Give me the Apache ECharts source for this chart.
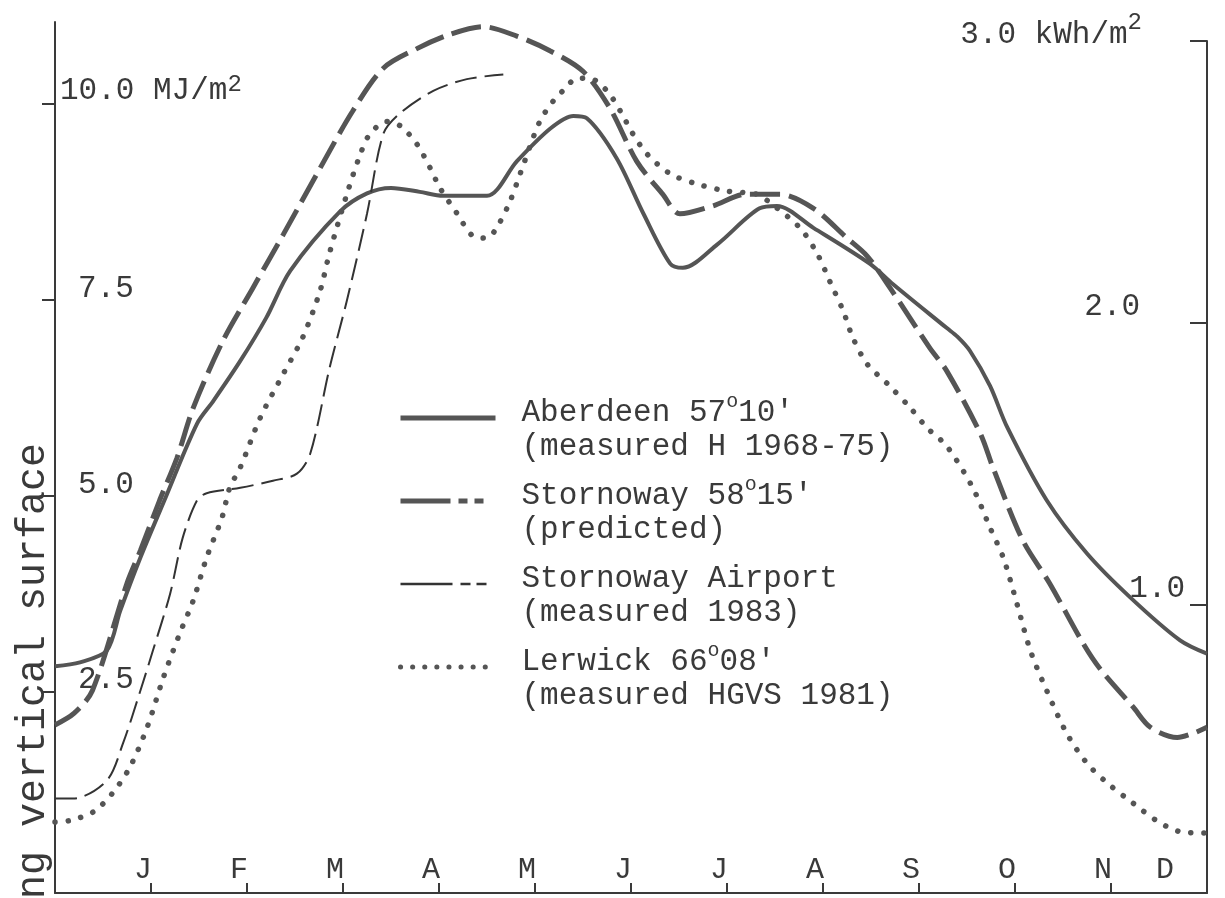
<!DOCTYPE html>
<html>
<head>
<meta charset="utf-8">
<script src="https://cdn.jsdelivr.net/npm/echarts@6/dist/echarts.min.js"></script>
<style>
  html, body { margin: 0; padding: 0; background: #fff; }
  #chart { width: 1225px; height: 898px; }
</style>
</head>
<body>
<div id="chart"></div>
<script>
// month letters, a label sits just left of each month-end tick
const months = ['J', 'F', 'M', 'A', 'M', 'J', 'J', 'A', 'S', 'O', 'N', 'D'];
const monthEnds = [1, 2, 3, 4, 5, 6, 7, 8, 9, 10, 11];
const leftTicks = [2.5, 5, 7.5, 10];   // MJ/m2
const rightTicks = [1, 2, 3];          // kWh/m2
const MJ_PER_KWH = 3.6;

// [position in months from 1 Jan, MJ/m2]
const aberdeen = [
  [0, 2.82], [0.26, 2.87], [0.54, 3.02], [0.68, 3.53], [0.89, 4.21], [1.15, 4.97],
  [1.48, 5.92], [1.65, 6.21], [1.93, 6.72], [2.2, 7.27], [2.45, 7.87], [2.97, 8.63],
  [3.25, 8.86], [3.5, 8.93], [3.8, 8.88], [4.04, 8.83], [4.5, 8.83], [4.81, 9.27],
  [5.16, 9.69], [5.4, 9.85], [5.54, 9.82], [5.85, 9.31], [6.13, 8.6], [6.41, 7.96],
  [6.54, 7.91], [6.9, 8.21], [7.34, 8.67], [7.52, 8.7], [7.9, 8.42], [8.49, 7.96],
  [8.73, 7.7], [9.29, 7.14], [9.4, 7.03], [9.53, 6.85], [9.74, 6.4], [9.92, 5.87],
  [10.33, 4.94], [10.75, 4.26], [11.2, 3.7], [11.72, 3.15], [12, 2.98]
];
const stornowayPredicted = [
  [0, 2.07], [0.2, 2.22], [0.39, 2.51], [0.75, 3.88], [0.89, 4.3], [1.09, 4.94],
  [1.27, 5.48], [1.44, 6.12], [1.75, 6.98], [2.06, 7.65], [2.38, 8.34], [2.76, 9.18],
  [3.1, 9.91], [3.42, 10.46], [3.77, 10.71], [4.11, 10.89], [4.46, 10.99], [4.81, 10.87],
  [5.16, 10.68], [5.5, 10.42], [5.78, 9.95], [6.06, 9.27], [6.33, 8.85], [6.51, 8.6],
  [6.85, 8.7], [7.2, 8.85], [7.55, 8.85], [7.9, 8.67], [8.25, 8.29], [8.46, 8.06],
  [8.7, 7.65], [9.11, 6.89], [9.29, 6.59], [9.64, 5.79], [9.77, 5.36], [10.08, 4.43],
  [10.36, 3.88], [10.71, 3.11], [10.89, 2.78], [11.23, 2.3], [11.41, 2.04], [11.69, 1.91],
  [11.85, 1.96], [12, 2.04]
];
const stornowayAirport = [
  [0, 1.13], [0.19, 1.13], [0.54, 1.36], [0.71, 1.84], [0.89, 2.51], [1.02, 3.02],
  [1.2, 3.75], [1.33, 4.46], [1.48, 4.94], [1.58, 5.03], [1.93, 5.1], [2.27, 5.19],
  [2.52, 5.28], [2.66, 5.54], [2.86, 6.63], [3.04, 7.49], [3.25, 8.6], [3.42, 9.62],
  [3.59, 9.88], [3.94, 10.17], [4.29, 10.32], [4.67, 10.38]
];
const lerwick = [
  [0, 0.83], [0.16, 0.85], [0.4, 0.96], [0.6, 1.2], [0.78, 1.53], [0.96, 2.04],
  [1.13, 2.68], [1.3, 3.24], [1.44, 3.66], [1.58, 4.21], [1.74, 4.72], [1.82, 5.1],
  [1.93, 5.36], [2.14, 6.0], [2.38, 6.56], [2.58, 7.02], [2.76, 7.61], [2.86, 8.1],
  [3.04, 8.85], [3.18, 9.36], [3.28, 9.62], [3.46, 9.78], [3.6, 9.72], [3.77, 9.49],
  [3.91, 9.18], [4.01, 8.93], [4.19, 8.6], [4.35, 8.32], [4.5, 8.29], [4.6, 8.42],
  [4.74, 8.76], [4.88, 9.23], [5.05, 9.78], [5.19, 10.04], [5.29, 10.17], [5.44, 10.33],
  [5.57, 10.33], [5.75, 10.17], [5.89, 9.91], [6.02, 9.62], [6.17, 9.36], [6.41, 9.11],
  [6.69, 8.98], [7.0, 8.89], [7.31, 8.85], [7.45, 8.74], [7.76, 8.42], [7.94, 8.09],
  [8.07, 7.74], [8.21, 7.36], [8.31, 7.02], [8.46, 6.68], [8.67, 6.43], [8.91, 6.12],
  [9.08, 5.87], [9.29, 5.63], [9.56, 5.1], [9.74, 4.59], [9.88, 4.2], [10.02, 3.62],
  [10.16, 3.02], [10.33, 2.51], [10.54, 1.96], [10.75, 1.58], [10.96, 1.33], [11.23, 1.07],
  [11.51, 0.82], [11.75, 0.7], [12, 0.69]
];

const legendText = {
  'Aberdeen': "Aberdeen 57{o|o}10'\n(measured H 1968-75)",
  'Stornoway': "Stornoway 58{o|o}15'\n(predicted)",
  'Stornoway Airport': 'Stornoway Airport\n(measured 1983)',
  'Lerwick': "Lerwick 66{o|o}08'\n(measured HGVS 1981)"
};

const FONT = '"Liberation Mono", "DejaVu Sans Mono", monospace';
const INK = '#3a3a3a';
const LINE = '#555555';
const yMin = -0.077;
const yMax = 11.05;

const chart = echarts.init(document.getElementById('chart'));

const option = {
  backgroundColor: '#ffffff',
  animation: false,
  // second grid only carries the kWh scale, whose line stops at 3.0
  grid: [
    { left: 55, right: 18, top: 22, bottom: 5, outerBoundsMode: 'none' },
    { left: 55, right: 18, top: 41, bottom: 5, outerBoundsMode: 'none' }
  ],
  legend: {
    orient: 'vertical',
    left: 393,
    top: 367,
    itemWidth: 95,
    itemHeight: 14,
    itemGap: -9,
    selectedMode: false,
    itemStyle: { opacity: 0 },
    data: [
      { name: 'Aberdeen', lineStyle: { type: 'solid', width: 5, color: LINE } },
      { name: 'Stornoway', lineStyle: { type: [50, 8, 9, 7, 9, 40], width: 5, color: LINE } },
      { name: 'Stornoway Airport', lineStyle: { type: [52, 8, 10, 6, 10, 40], width: 2.5, color: '#333' } },
      { name: 'Lerwick', lineStyle: { type: [0.1, 12], width: 5, cap: 'round', color: LINE } }
    ],
    formatter: name => legendText[name],
    textStyle: {
      fontFamily: FONT,
      fontSize: 31,
      lineHeight: 34,
      color: INK,
      padding: [24, 0, 0, 21],
      rich: {
        o: { fontFamily: FONT, fontSize: 20, lineHeight: 12, padding: [0, 0, 22, 0], color: INK }
      }
    }
  },
  graphic: [{
    type: 'text',
    x: 33,
    y: 443,
    rotation: Math.PI / 2,
    style: {
      text: 'ng vertical surface',
      fontFamily: FONT,
      fontSize: 40,
      fill: INK,
      textAlign: 'right',
      textVerticalAlign: 'middle'
    }
  }],
  xAxis: [
    {
      type: 'value',
      gridIndex: 0,
      min: 0,
      max: 12,
      splitLine: { show: false },
      axisLine: { show: true, onZero: false, lineStyle: { color: INK, width: 2 } },
      axisTick: {
        show: true, inside: true, length: 10, customValues: monthEnds,
        lineStyle: { color: INK, width: 2 }
      },
      axisLabel: {
        inside: true,
        margin: 8,
        customValues: months.map((m, i) => i + 1),
        formatter: v => (v === 12 ? '{d|' : '{m|') + months[v - 1] + '}',
        rich: {
          m: { fontFamily: FONT, fontSize: 30, color: INK, padding: [0, 16, 0, 0] },
          d: { fontFamily: FONT, fontSize: 30, color: INK, padding: [0, 84, 0, 0] }
        }
      }
    },
    { type: 'value', gridIndex: 1, min: 0, max: 12, show: false }
  ],
  yAxis: [
    {
      type: 'value',
      gridIndex: 0,
      position: 'left',
      min: yMin,
      max: yMax,
      splitLine: { show: false },
      axisLine: { show: true, onZero: false, lineStyle: { color: INK, width: 2 } },
      axisTick: { show: true, length: 13, customValues: leftTicks, lineStyle: { color: INK, width: 2 } },
      axisLabel: {
        inside: true,
        margin: 5,
        customValues: leftTicks,
        formatter: v => v === 10 ? '{n|10.0 MJ/m}{s|2}' : '{i|' + v.toFixed(1) + '}',
        rich: {
          n: { fontFamily: FONT, fontSize: 31, color: INK, padding: [0, 0, 26, 0] },
          i: { fontFamily: FONT, fontSize: 31, color: INK, padding: [0, 0, 22, 18] },
          s: { fontFamily: FONT, fontSize: 24, color: INK, lineHeight: 20, padding: [0, 0, 40, 0] }
        }
      }
    },
    {
      type: 'value',
      gridIndex: 1,
      position: 'right',
      min: yMin / MJ_PER_KWH,
      max: 3,
      splitLine: { show: false },
      axisLine: { show: true, onZero: false, lineStyle: { color: INK, width: 2 } },
      axisTick: { show: true, inside: true, length: 17, customValues: rightTicks, lineStyle: { color: INK, width: 2 } },
      axisLabel: {
        inside: true,
        margin: 22,
        customValues: rightTicks,
        formatter: v => v === 3 ? '{n|3.0 kWh/m}{s|2}' : (v === 2 ? '{w|2.0}' : '{i|1.0}'),
        rich: {
          n: { fontFamily: FONT, fontSize: 31, color: INK, padding: [0, 0, 12, 0] },
          s: { fontFamily: FONT, fontSize: 24, color: INK, lineHeight: 20, padding: [0, 43, 36, 0] },
          w: { fontFamily: FONT, fontSize: 31, color: INK, padding: [0, 45, 32, 0] },
          i: { fontFamily: FONT, fontSize: 31, color: INK, padding: [0, 0, 32, 0] }
        }
      }
    }
  ],
  series: [
    {
      name: 'Aberdeen', type: 'line', data: aberdeen, smooth: 0.3, symbol: 'none',
      lineStyle: { color: LINE, width: 4 }
    },
    {
      name: 'Stornoway', type: 'line', data: stornowayPredicted, smooth: 0.3, symbol: 'none',
      lineStyle: { color: LINE, width: 5, type: [30, 9] }
    },
    {
      name: 'Stornoway Airport', type: 'line', data: stornowayAirport, smooth: 0.3, symbol: 'none',
      lineStyle: { color: '#333333', width: 2, type: [22, 8] }
    },
    {
      name: 'Lerwick', type: 'line', data: lerwick, smooth: 0.3, symbol: 'none',
      lineStyle: { color: LINE, width: 5.5, type: [0.1, 13], cap: 'round' }
    }
  ]
};

chart.setOption(option);
</script>
</body>
</html>
